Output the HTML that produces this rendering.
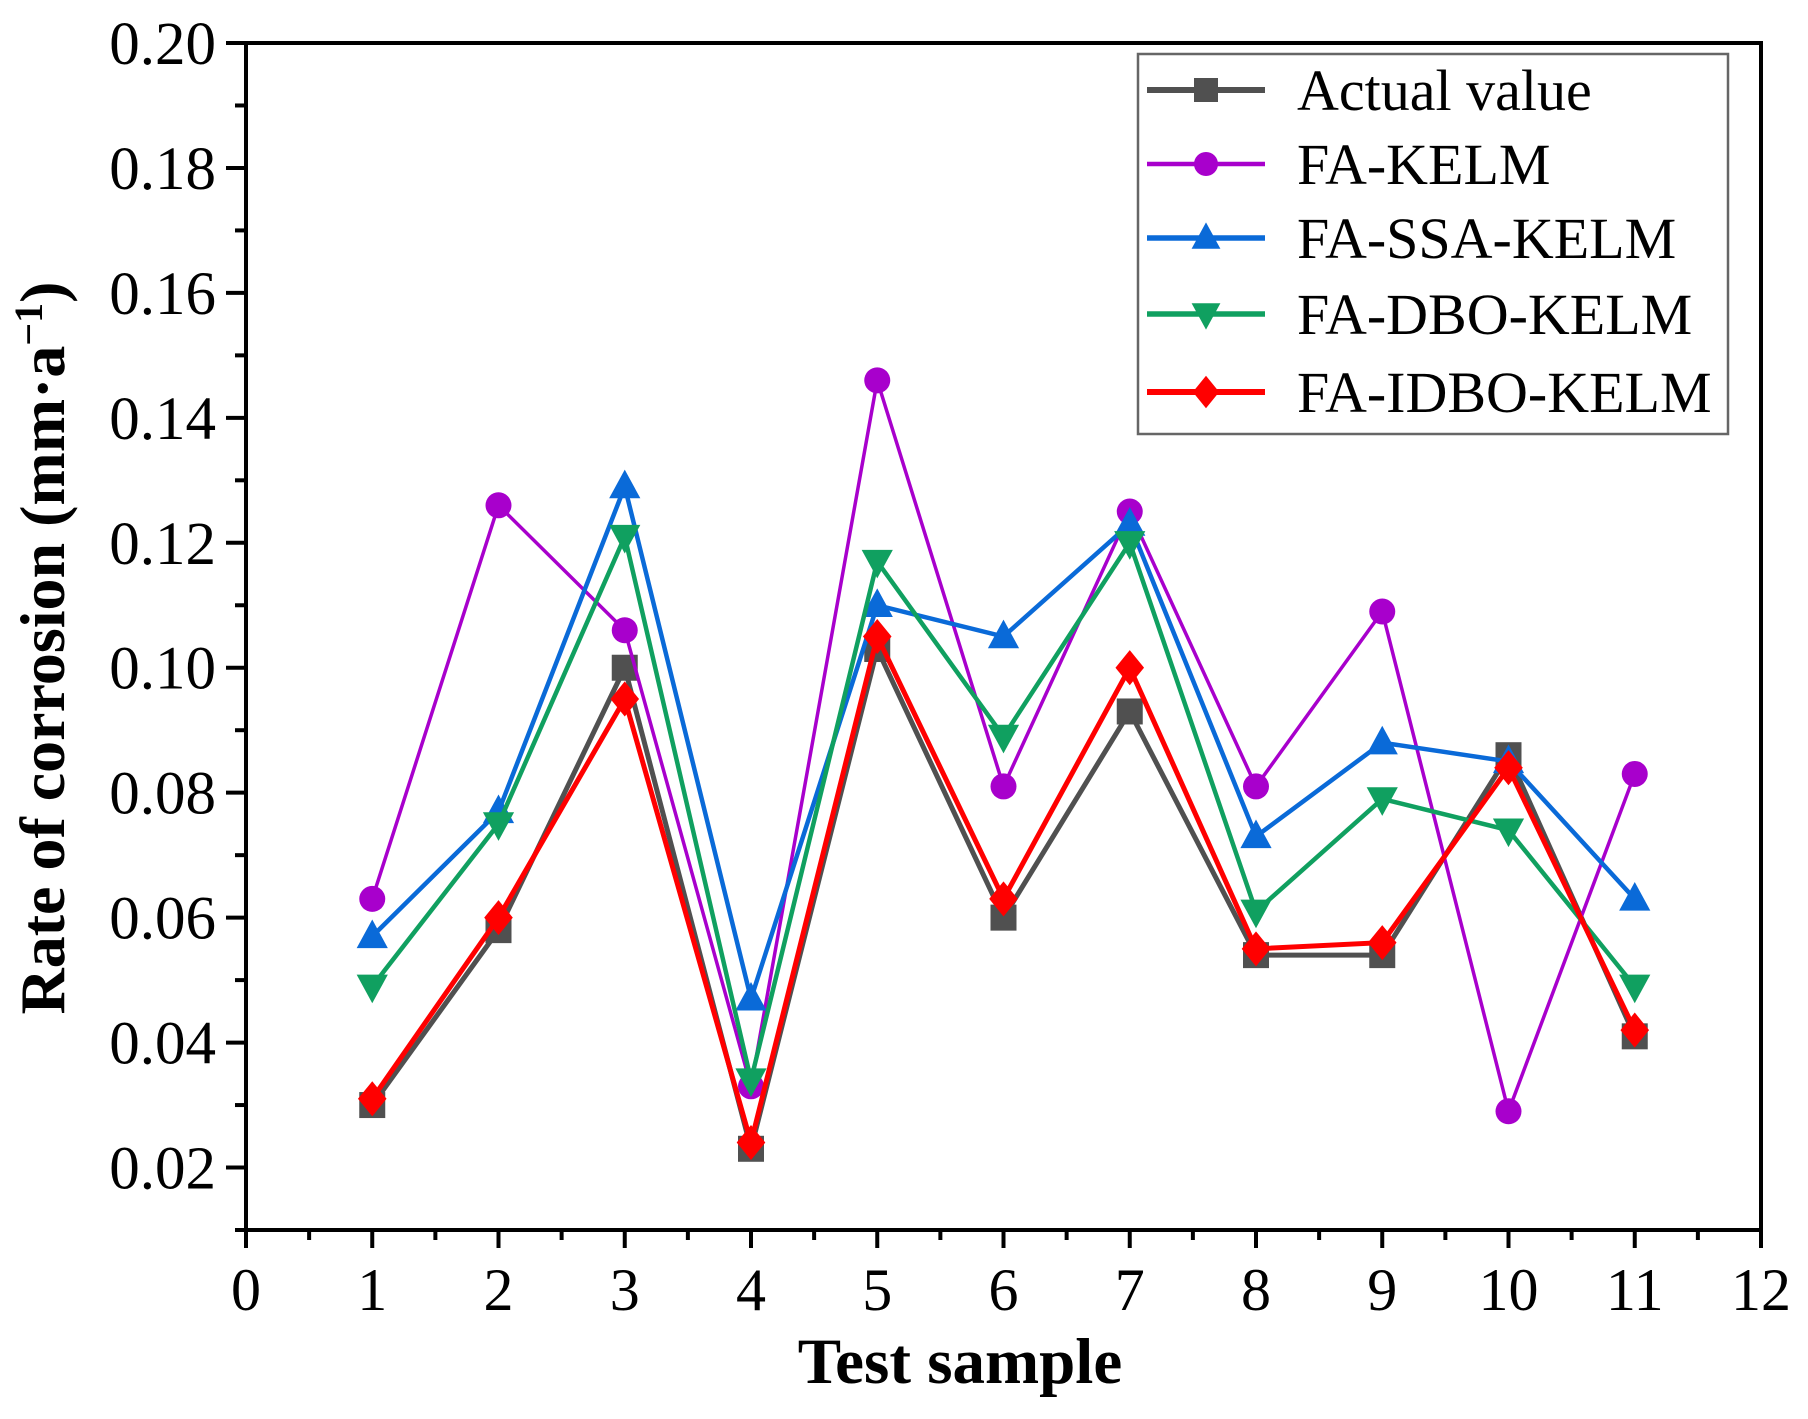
<!DOCTYPE html>
<html><head><meta charset="utf-8"><style>
html,body{margin:0;padding:0;background:#fff;}
svg{display:block;font-family:"Liberation Serif",serif;}
</style></head><body>
<svg id="chart" width="1808" height="1419" viewBox="0 0 1808 1419">
<g id="axes"></g>
<g id="series"></g>
<g id="legend"></g>
<text x="960" y="1383" text-anchor="middle" font-size="65" font-weight="bold">Test sample</text>
<text transform="translate(64,648) rotate(-90)" text-anchor="middle" font-size="64" font-weight="bold">Rate of corrosion (mm·a<tspan baseline-shift="super" font-size="40">−1</tspan>)</text>
</svg>
<script>
const samples = [1,2,3,4,5,6,7,8,9,10,11];
const actualValues = [0.030,0.058,0.100,0.023,0.103,0.060,0.093,0.054,0.054,0.086,0.041];
const faKelmValues = [0.063,0.126,0.106,0.033,0.146,0.081,0.125,0.081,0.109,0.029,0.083];
const faSsaKelmValues = [0.057,0.077,0.129,0.047,0.110,0.105,0.123,0.073,0.088,0.085,0.063];
const faDboKelmValues = [0.049,0.075,0.121,0.034,0.117,0.089,0.120,0.061,0.079,0.074,0.049];
const faIdboKelmValues = [0.031,0.060,0.095,0.024,0.105,0.063,0.100,0.055,0.056,0.084,0.042];
const seriesNames = ["Actual value","FA-KELM","FA-SSA-KELM","FA-DBO-KELM","FA-IDBO-KELM"];
const xTickLabels = ["0","1","2","3","4","5","6","7","8","9","10","11","12"];
const yTickLabels = ["0.02","0.04","0.06","0.08","0.10","0.12","0.14","0.16","0.18","0.20"];

const NS="http://www.w3.org/2000/svg";
const L=246,R=1761,T=43,B=1230;
const X0=0,X1=12,Y0=0.01,Y1=0.20;
function sx(v){return L+(v-X0)/(X1-X0)*(R-L);}
function sy(v){return B-(v-Y0)/(Y1-Y0)*(B-T);}
function mk(tag,attrs,parent){const e=document.createElementNS(NS,tag);for(const k in attrs)e.setAttribute(k,attrs[k]);parent.appendChild(e);return e;}

const axes=document.getElementById('axes');
const frame=mk('rect',{x:L,y:T,width:R-L,height:B-T,fill:'none',stroke:'#000','stroke-width':4},axes);


xTickLabels.forEach((lab,i)=>{
  const v=parseFloat(lab);
  const t=mk('line',{x1:sx(v),x2:sx(v),y1:B,y2:B+18,stroke:'#000','stroke-width':4},axes);
  
  
  if(i<xTickLabels.length-1){
    const m=mk('line',{x1:sx(v+0.5),x2:sx(v+0.5),y1:B,y2:B+10,stroke:'#000','stroke-width':4},axes);
    
    
  }
  const tx=mk('text',{x:sx(v),y:B+80,'text-anchor':'middle','font-size':60},axes);
  tx.textContent=lab;
  
  
});
yTickLabels.forEach((lab,i)=>{
  const v=parseFloat(lab);
  const t=mk('line',{x1:L-20,x2:L,y1:sy(v),y2:sy(v),stroke:'#000','stroke-width':4},axes);
  
  
  const m=mk('line',{x1:L-11,x2:L,y1:sy(v-0.01),y2:sy(v-0.01),stroke:'#000','stroke-width':4},axes);
  
  
  const tx=mk('text',{x:L-30,y:sy(v)+21,'text-anchor':'end','font-size':61},axes);
  tx.textContent=lab;
  
  
});

const styles=[
 {c:'#505050',w:5,m:'square'},
 {c:'#a800cc',w:3.5,m:'circle'},
 {c:'#0a6ad8',w:4.5,m:'tri-up'},
 {c:'#10a060',w:4.5,m:'tri-down'},
 {c:'#ff0000',w:5,m:'diamond'}
];
const allValues=[actualValues,faKelmValues,faSsaKelmValues,faDboKelmValues,faIdboKelmValues];
function marker(type,x,y,c,parent,s){
  s=s||13;
  if(type==='square') return mk('rect',{x:x-s,y:y-s,width:2*s,height:2*s,fill:c},parent);
  if(type==='circle') return mk('circle',{cx:x,cy:y,r:s,fill:c},parent);
  if(type==='tri-up') return mk('polygon',{points:`${x},${y-s*1.3} ${x+s*1.2},${y+s*0.9} ${x-s*1.2},${y+s*0.9}`,fill:c},parent);
  if(type==='tri-down') return mk('polygon',{points:`${x},${y+s*1.3} ${x+s*1.2},${y-s*0.9} ${x-s*1.2},${y-s*0.9}`,fill:c},parent);
  return mk('polygon',{points:`${x},${y-s*1.35} ${x+s*1.1},${y} ${x},${y+s*1.35} ${x-s*1.1},${y}`,fill:c},parent);
}
const sg=document.getElementById('series');
allValues.forEach((vals,si)=>{
  const st=styles[si];
  const g=mk('g',{},sg);
  
  
  const pts=samples.map((s,i)=>sx(s)+','+sy(vals[i])).join(' ');
  const pl=mk('polyline',{points:pts,fill:'none',stroke:st.c,'stroke-width':st.w,'stroke-linejoin':'miter'},g);
  
  
  samples.forEach((s,i)=>{
    const p=marker(st.m,sx(s),sy(vals[i]),st.c,g);
    
    
  });
});

const lg=document.getElementById('legend');
const box=mk('rect',{x:1138,y:54,width:590,height:380,fill:'#fff',stroke:'#666','stroke-width':2.5},lg);


const rowY=[90,164,238,314,392];
seriesNames.forEach((n,i)=>{
  const st=styles[i];
  const g=mk('g',{},lg);
  
  
  mk('line',{x1:1147,x2:1265,y1:rowY[i],y2:rowY[i],stroke:st.c,'stroke-width':st.w+1},g);
  marker(st.m,1206,rowY[i],st.c,g,12);
  const t=mk('text',{x:1297,y:rowY[i]+20,'font-size':58},g);
  t.textContent=n;
});
</script>
</body></html>
